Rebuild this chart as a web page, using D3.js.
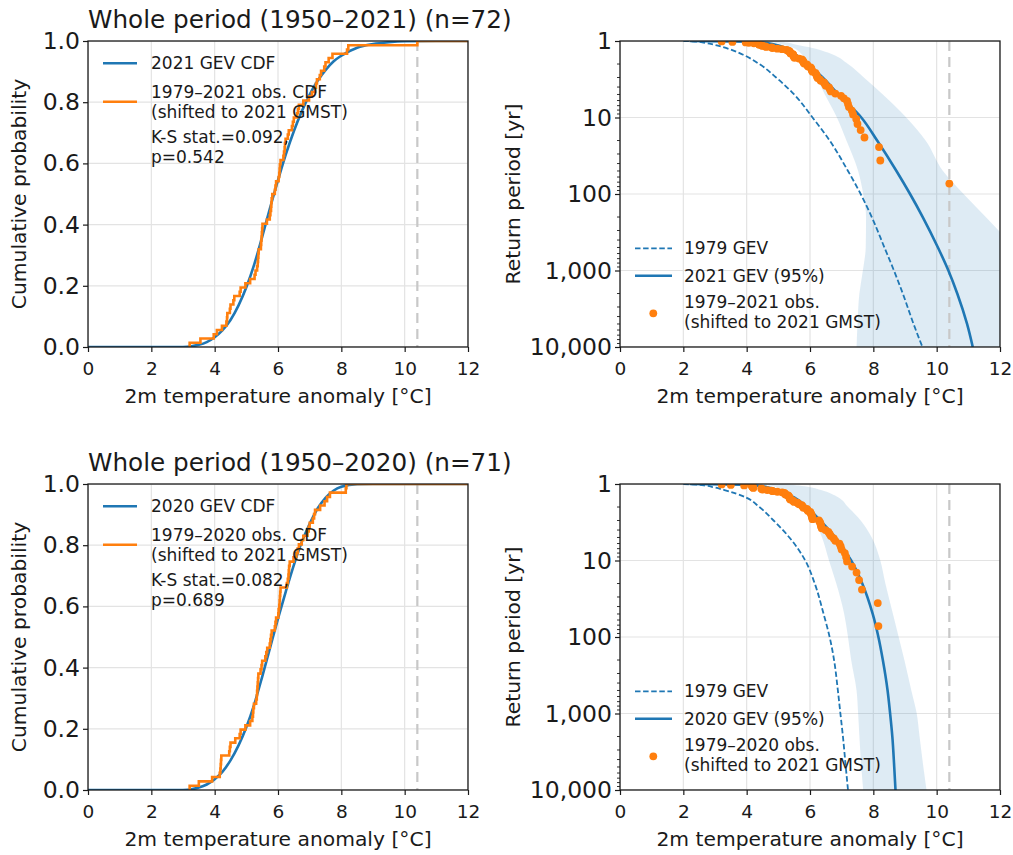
<!DOCTYPE html>
<html><head><meta charset="utf-8">
<script src="https://cdn.jsdelivr.net/npm/d3@7"></script>
<style>
body{margin:0;background:#fff}
svg{display:block}
text{font-family:'DejaVu Sans',sans-serif;fill:#1a1a1a}
</style>
</head><body>
<svg id="c" width="1013" height="855"></svg>
<script>
// ---------------- data ----------------
const xTicks = [0, 2, 4, 6, 8, 10, 12];
const cdfTicks = [0, 0.2, 0.4, 0.6, 0.8, 1.0];
const rpTicks = [1, 10, 100, 1000, 10000];
const eventTemp = 10.4;

// observed annual maxima shifted to 2021 GMST (sorted), 1950–2021 (n=72)
const obs2021 = [3.21, 3.55, 3.97, 4.07, 4.23, 4.37, 4.39, 4.40, 4.48, 4.50, 4.59, 4.62, 4.79, 4.82, 4.97, 5.12,
  5.26, 5.29, 5.34, 5.36, 5.37, 5.38, 5.39, 5.46, 5.47, 5.48, 5.49, 5.50, 5.51, 5.65, 5.74, 5.76, 5.78, 5.79,
  5.80, 5.82, 5.90, 5.92, 5.94, 6.02, 6.04, 6.05, 6.06, 6.08, 6.17, 6.19, 6.21, 6.22, 6.24, 6.31, 6.34, 6.44,
  6.47, 6.50, 6.60, 6.63, 6.66, 6.80, 6.98, 7.07, 7.17, 7.20, 7.23, 7.32, 7.36, 7.46, 7.50, 7.60, 7.72, 8.18,
  8.22, 10.40];
// 1950–2020 (n=71)
const obs2020 = [3.21, 3.50, 3.92, 4.16, 4.18, 4.19, 4.20, 4.21, 4.46, 4.48, 4.50, 4.65, 4.79, 4.82, 4.97, 5.12,
  5.19, 5.21, 5.22, 5.24, 5.31, 5.33, 5.34, 5.35, 5.36, 5.37, 5.38, 5.45, 5.48, 5.50, 5.60, 5.63, 5.66, 5.74,
  5.76, 5.78, 5.80, 5.90, 5.92, 5.94, 6.01, 6.02, 6.04, 6.05, 6.06, 6.07, 6.08, 6.28, 6.31, 6.33, 6.34, 6.35,
  6.37, 6.49, 6.58, 6.62, 6.66, 6.75, 6.80, 6.93, 6.97, 7.00, 7.10, 7.14, 7.17, 7.33, 7.47, 7.55, 7.64, 8.14,
  8.16];

// GEV CDF curves (temperature -> cumulative probability)
const cdfX    = [0, 3.0, 3.3, 3.5, 3.75, 4, 4.25, 4.5, 4.75, 5, 5.25, 5.5, 5.75, 6, 6.25, 6.5, 6.75, 7, 7.25, 7.5, 7.75, 8, 8.5, 9, 9.5, 10, 11, 12];
const cdf2021 = [0, 0, 0.003, 0.007, 0.016, 0.032, 0.055, 0.088, 0.135, 0.195, 0.27, 0.36, 0.455, 0.545, 0.63, 0.705, 0.77, 0.825, 0.87, 0.905, 0.933, 0.952, 0.978, 0.99, 0.996, 0.999, 1, 1];
const cdf2020 = [0, 0, 0.003, 0.008, 0.018, 0.035, 0.06, 0.097, 0.145, 0.205, 0.28, 0.37, 0.465, 0.56, 0.65, 0.735, 0.81, 0.87, 0.92, 0.955, 0.978, 0.991, 0.9995, 1, 1, 1, 1, 1];

// return-level curves (return period -> temperature)
const returnPeriods = [1.0, 1.02, 1.05, 1.1, 1.2, 1.5, 2, 3, 5, 10, 20, 50, 100, 200, 500, 1000, 2000, 5000, 10000];
const gev1979Top  = [2.0, 2.45, 2.65, 2.9, 3.25, 3.87, 4.4, 4.93, 5.5, 6.08, 6.62, 7.2, 7.6, 7.95, 8.35, 8.65, 8.93, 9.27, 9.55];
const gev2021     = [2.2, 4.1, 4.5, 4.85, 5.15, 5.55, 5.92, 6.4, 6.9, 7.62, 8.12, 8.73, 9.16, 9.56, 10.04, 10.37, 10.65, 10.96, 11.14];
const ci2021Lower = [4.3, 4.6, 4.85, 5.1, 5.4, 5.75, 5.95, 6.2, 6.47, 6.85, 7.15, 7.52, 7.68, 7.77, 7.76, 7.67, 7.56, 7.5, 7.47];
const ci2021Upper = [4.9, 5.1, 5.28, 5.5, 5.95, 6.72, 7.2, 7.7, 8.3, 9.04, 9.65, 10.2, 10.85, 11.55, 12.45, 13.1, 13.8, 14.7, 15.4];
const gev1979Bot  = [2.0, 2.45, 2.7, 2.95, 3.3, 3.98, 4.4, 4.85, 5.35, 5.85, 6.15, 6.43, 6.62, 6.76, 6.88, 6.96, 7.04, 7.13, 7.2];
const gev2020     = [2.2, 3.9, 4.3, 4.65, 5.0, 5.5, 5.9, 6.32, 6.8, 7.3, 7.65, 7.98, 8.16, 8.3, 8.45, 8.53, 8.6, 8.66, 8.7];
const ci2020Lower = [4.4, 4.6, 4.75, 4.95, 5.2, 5.55, 5.9, 6.15, 6.38, 6.6, 6.83, 7.08, 7.2, 7.3, 7.47, 7.52, 7.56, 7.62, 7.68];
const ci2020Upper = [5.1, 5.4, 5.65, 6.0, 6.35, 6.9, 7.2, 7.6, 7.95, 8.22, 8.38, 8.62, 8.8, 8.98, 9.2, 9.37, 9.46, 9.58, 9.68];

// ---------------- drawing ----------------
const BLUE = '#1f77b4', ORANGE = '#ff7f0e', GRID = '#e3e3e3', SPINE = '#1a1a1a';
const XTICK_FS = 18.5, YTICK_FS = 23.5, LABEL_FS = 20.3, TITLE_FS = 24.7, LEG_FS = 17;
const svg = d3.select('#c');
let clipId = 0;

function frame(box) {
  const g = svg.append('g');
  const id = 'clip' + (clipId++);
  svg.append('clipPath').attr('id', id).append('rect')
    .attr('x', box.l).attr('y', box.t).attr('width', box.r - box.l).attr('height', box.b - box.t);
  const inner = g.append('g').attr('clip-path', `url(#${id})`);
  return {g, inner};
}

function xAxis(g, x, box) {
  const ax = g.append('g').attr('transform', `translate(0,${box.b})`)
    .call(d3.axisBottom(x).tickValues(xTicks).tickFormat(d3.format('d')).tickSize(5).tickPadding(10));
  ax.select('.domain').remove();
  ax.selectAll('line').attr('stroke', SPINE).attr('stroke-width', 1.2);
  ax.selectAll('text').attr('font-size', XTICK_FS).style('fill', '#1a1a1a');
  g.append('text').attr('x', (box.l + box.r) / 2).attr('y', box.b + 56)
    .attr('text-anchor', 'middle').attr('font-size', LABEL_FS).text('2m temperature anomaly [°C]');
}

function spines(g, box) {
  g.append('rect').attr('x', box.l).attr('y', box.t).attr('width', box.r - box.l).attr('height', box.b - box.t)
    .attr('fill', 'none').attr('stroke', SPINE).attr('stroke-width', 1.3);
}

function vline(inner, x, box) {
  inner.append('line').attr('x1', x(eventTemp)).attr('x2', x(eventTemp)).attr('y1', box.t).attr('y2', box.b)
    .attr('stroke', '#c8c8c8').attr('stroke-width', 2.2).attr('stroke-dasharray', '10,6');
}

function cdfPanel(box, obs, cdfVals, title, legLabels, ks) {
  const {g, inner} = frame(box);
  const x = d3.scaleLinear().domain([0, 12]).range([box.l, box.r]);
  const y = d3.scaleLinear().domain([0, 1]).range([box.b, box.t]);
  inner.selectAll('.gx').data(xTicks).join('line').attr('x1', d => x(d)).attr('x2', d => x(d))
    .attr('y1', box.t).attr('y2', box.b).attr('stroke', GRID).attr('stroke-width', 1.2);
  inner.selectAll('.gy').data(cdfTicks).join('line').attr('y1', d => y(d)).attr('y2', d => y(d))
    .attr('x1', box.l).attr('x2', box.r).attr('stroke', GRID).attr('stroke-width', 1.2);
  vline(inner, x, box);
  const pts = cdfX.map((v, i) => [v, cdfVals[i]]);
  inner.append('path').datum(pts).attr('fill', 'none').attr('stroke', BLUE).attr('stroke-width', 2.6)
    .attr('d', d3.line().x(d => x(d[0])).y(d => y(d[1])).curve(d3.curveMonotoneX));
  const n = obs.length;
  const steps = [[obs[0], 0]].concat(obs.map((v, i) => [v, (i + 1) / n])).concat([[12, 1]]);
  inner.append('path').datum(steps).attr('fill', 'none').attr('stroke', ORANGE).attr('stroke-width', 2.6)
    .attr('d', d3.line().x(d => x(d[0])).y(d => y(d[1])).curve(d3.curveStepAfter));
  spines(g, box);
  xAxis(g, x, box);
  const ay = g.append('g').attr('transform', `translate(${box.l},0)`)
    .call(d3.axisLeft(y).tickValues(cdfTicks).tickFormat(d3.format('.1f')).tickSize(5).tickPadding(3));
  ay.select('.domain').remove();
  ay.selectAll('line').attr('stroke', SPINE).attr('stroke-width', 1.2);
  ay.selectAll('text').attr('font-size', YTICK_FS).style('fill', '#1a1a1a');
  g.append('text').attr('transform', `translate(25.5,${(box.t + box.b) / 2}) rotate(-90)`)
    .attr('text-anchor', 'middle').attr('font-size', LABEL_FS).text('Cumulative probability');
  g.append('text').attr('x', box.l).attr('y', box.t - 13).attr('font-size', TITLE_FS).text(title);
  const L = g.append('g');
  L.append('line').attr('x1', 103).attr('x2', 137).attr('y1', box.t + 22.3).attr('y2', box.t + 22.3)
    .attr('stroke', BLUE).attr('stroke-width', 2.6);
  L.append('text').attr('x', 151).attr('y', box.t + 28.3).attr('font-size', LEG_FS).text(legLabels[0]);
  L.append('line').attr('x1', 103).attr('x2', 137).attr('y1', box.t + 60.7).attr('y2', box.t + 60.7)
    .attr('stroke', ORANGE).attr('stroke-width', 2.6);
  L.append('text').attr('x', 151).attr('y', box.t + 56.7).attr('font-size', LEG_FS).text(legLabels[1]);
  L.append('text').attr('x', 151).attr('y', box.t + 76.7).attr('font-size', LEG_FS).text(legLabels[2]);
  L.append('text').attr('x', 151).attr('y', box.t + 101.7).attr('font-size', LEG_FS).text(ks[0]);
  L.append('text').attr('x', 151).attr('y', box.t + 121.7).attr('font-size', LEG_FS).text(ks[1]);
}

function rpPanel(box, obs, gev79, gevNow, ciLo, ciHi, legLabels) {
  const {g, inner} = frame(box);
  const x = d3.scaleLinear().domain([0, 12]).range([box.l, box.r]);
  const y = d3.scaleLog().domain([1, 10000]).range([box.t, box.b]);
  inner.selectAll('.gx').data(xTicks).join('line').attr('x1', d => x(d)).attr('x2', d => x(d))
    .attr('y1', box.t).attr('y2', box.b).attr('stroke', GRID).attr('stroke-width', 1.2);
  inner.selectAll('.gy').data(rpTicks).join('line').attr('y1', d => y(d)).attr('y2', d => y(d))
    .attr('x1', box.l).attr('x2', box.r).attr('stroke', GRID).attr('stroke-width', 1.2);
  const band = returnPeriods.map((rp, i) => ({rp, lo: ciLo[i], hi: ciHi[i]}));
  inner.append('path').datum(band).attr('fill', BLUE).attr('fill-opacity', 0.15)
    .attr('d', d3.area().y(d => y(d.rp)).x0(d => x(d.lo)).x1(d => x(d.hi)).curve(d3.curveMonotoneY));
  vline(inner, x, box);
  const ln = d3.line().x(d => x(d[0])).y(d => y(d[1])).curve(d3.curveMonotoneY);
  inner.append('path').datum(returnPeriods.map((rp, i) => [gev79[i], rp])).attr('fill', 'none')
    .attr('stroke', BLUE).attr('stroke-width', 1.8).attr('stroke-dasharray', '5.5,2.6').attr('d', ln);
  inner.append('path').datum(returnPeriods.map((rp, i) => [gevNow[i], rp])).attr('fill', 'none')
    .attr('stroke', BLUE).attr('stroke-width', 2.6).attr('d', ln);
  const n = obs.length;
  inner.selectAll('circle.o').data(obs).join('circle')
    .attr('cx', d => x(d)).attr('cy', (d, i) => y((n + 1) / (n - i))).attr('r', 3.9).attr('fill', ORANGE);
  spines(g, box);
  xAxis(g, x, box);
  const ay = g.append('g').attr('transform', `translate(${box.l},0)`)
    .call(d3.axisLeft(y).tickValues(rpTicks).tickFormat(d3.format(',')).tickSize(5).tickPadding(3));
  ay.select('.domain').remove();
  ay.selectAll('line').attr('stroke', SPINE).attr('stroke-width', 1.2);
  ay.selectAll('text').attr('font-size', YTICK_FS).style('fill', '#1a1a1a');
  const minors = [];
  [1, 10, 100, 1000].forEach(dec => { for (let k = 2; k <= 9; k++) minors.push(k * dec); });
  g.selectAll('.mt').data(minors).join('line').attr('x1', box.l - 3).attr('x2', box.l)
    .attr('y1', d => y(d)).attr('y2', d => y(d)).attr('stroke', SPINE).attr('stroke-width', 0.9);
  g.append('text').attr('transform', `translate(520,${(box.t + box.b) / 2}) rotate(-90)`)
    .attr('text-anchor', 'middle').attr('font-size', LABEL_FS).text('Return period [yr]');
  const L = g.append('g');
  L.append('line').attr('x1', 635).attr('x2', 672).attr('y1', box.t + 207.3).attr('y2', box.t + 207.3)
    .attr('stroke', BLUE).attr('stroke-width', 1.8).attr('stroke-dasharray', '5.5,2.6');
  L.append('text').attr('x', 684).attr('y', box.t + 213.3).attr('font-size', LEG_FS).text(legLabels[0]);
  L.append('line').attr('x1', 635).attr('x2', 672).attr('y1', box.t + 234.7).attr('y2', box.t + 234.7)
    .attr('stroke', BLUE).attr('stroke-width', 2.6);
  L.append('text').attr('x', 684).attr('y', box.t + 240.7).attr('font-size', LEG_FS).text(legLabels[1]);
  L.append('circle').attr('cx', 653.3).attr('cy', box.t + 272.3).attr('r', 3.9).attr('fill', ORANGE);
  L.append('text').attr('x', 684).attr('y', box.t + 267.3).attr('font-size', LEG_FS).text(legLabels[2]);
  L.append('text').attr('x', 684).attr('y', box.t + 286.7).attr('font-size', LEG_FS).text(legLabels[3]);
}

const TL = {l: 88, r: 468, t: 41, b: 347};
const TR = {l: 620, r: 1000, t: 41, b: 347};
const BL = {l: 88, r: 468, t: 484, b: 790};
const BR = {l: 620, r: 1000, t: 484, b: 790};

cdfPanel(TL, obs2021, cdf2021, 'Whole period (1950–2021) (n=72)',
  ['2021 GEV CDF', '1979–2021 obs. CDF', '(shifted to 2021 GMST)'], ['K-S stat.=0.092,', 'p=0.542']);
rpPanel(TR, obs2021, gev1979Top, gev2021, ci2021Lower, ci2021Upper,
  ['1979 GEV', '2021 GEV (95%)', '1979–2021 obs.', '(shifted to 2021 GMST)']);
cdfPanel(BL, obs2020, cdf2020, 'Whole period (1950–2020) (n=71)',
  ['2020 GEV CDF', '1979–2020 obs. CDF', '(shifted to 2021 GMST)'], ['K-S stat.=0.082,', 'p=0.689']);
rpPanel(BR, obs2020, gev1979Bot, gev2020, ci2020Lower, ci2020Upper,
  ['1979 GEV', '2020 GEV (95%)', '1979–2020 obs.', '(shifted to 2021 GMST)']);
</script>
</body></html>
